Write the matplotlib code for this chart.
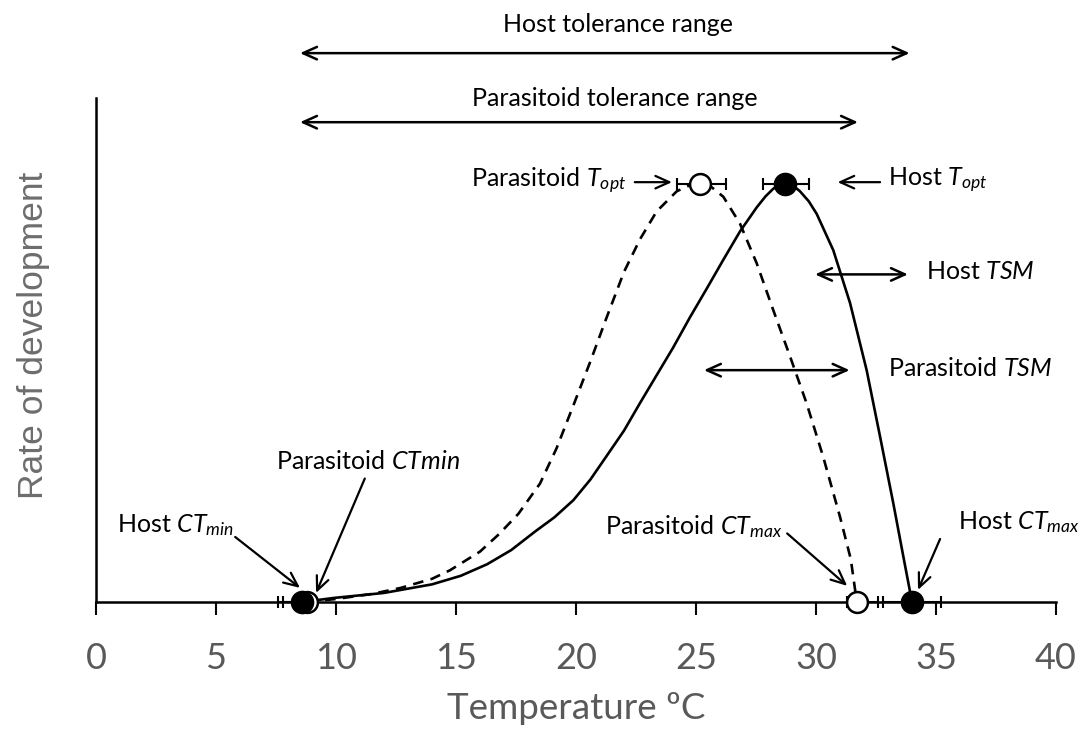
import matplotlib
matplotlib.use("Agg")
import matplotlib.pyplot as plt

# ── Fonts ─────────────────────────────────────────────────────────────────────
plt.rcParams["font.family"] = ["Lato", "DejaVu Sans"]
plt.rcParams["mathtext.fontset"] = "custom"
plt.rcParams["mathtext.rm"] = "Lato"
plt.rcParams["mathtext.it"] = "Lato:italic"

# ── Data ──────────────────────────────────────────────────────────────────────
host_temp = [8.6, 9.9, 12.0, 14.0, 15.2, 16.3, 17.3, 18.3, 19.1, 19.89, 20.6,
             21.28, 22.0, 22.67, 23.36, 24.05, 24.75, 25.45, 26.15, 26.83,
             27.53, 27.9, 28.22, 28.45, 28.7, 29.0, 29.33, 29.7, 30.03, 30.72,
             31.42, 32.11, 32.67, 33.22, 33.64, 34.0]
host_rate = [0.0, 0.008, 0.018, 0.035, 0.052, 0.075, 0.103, 0.14, 0.168, 0.202,
             0.243, 0.29, 0.34, 0.395, 0.45, 0.505, 0.565, 0.622, 0.68, 0.735,
             0.783, 0.805, 0.82, 0.827, 0.83, 0.828, 0.815, 0.795, 0.77, 0.698,
             0.593, 0.46, 0.328, 0.196, 0.09, 0.0]

para_temp = [8.8, 10.0, 11.5, 12.7, 14.0, 14.75, 16.0, 16.8, 17.6, 18.5, 19.19,
             19.89, 20.58, 21.28, 22.0, 22.67, 23.36, 24.2, 24.7, 25.15, 25.6,
             26.14, 26.83, 27.53, 28.22, 28.92, 29.61, 30.3, 31.0, 31.45, 31.7]
para_rate = [0.0, 0.006, 0.016, 0.028, 0.046, 0.063, 0.1, 0.135, 0.175, 0.235,
             0.305, 0.39, 0.475, 0.565, 0.655, 0.72, 0.775, 0.815, 0.826, 0.83,
             0.825, 0.804, 0.751, 0.672, 0.579, 0.487, 0.394, 0.288, 0.169,
             0.085, 0.0]

# key points: CTmin, Topt, CTmax
host_pts_x = [8.6, 28.7, 34.0]
host_pts_y = [0.0, 0.83, 0.0]
host_err_lo = [1.0, 0.9, 1.2]
host_err_hi = [0.4, 1.0, 1.2]

para_pts_x = [8.8, 25.15, 31.7]
para_pts_y = [0.0, 0.83, 0.0]
para_err_lo = [1.0, 0.95, 0.4]
para_err_hi = [0.2, 1.1, 0.9]

x_ticks = [0, 5, 10, 15, 20, 25, 30, 35, 40]

# ── Figure ────────────────────────────────────────────────────────────────────
fig = plt.figure(figsize=(10.82, 7.31), dpi=100)
ax = fig.add_axes([96 / 1082, 129 / 731, 960 / 1082, 504 / 731])
ax.set_xlim(0, 40)
ax.set_ylim(0, 1)

ax.plot(host_temp, host_rate, color="black", lw=1.9, zorder=2,
        solid_joinstyle="round", solid_capstyle="round")
ax.plot(para_temp, para_rate, color="black", lw=1.9, zorder=2,
        linestyle=(0, (4, 2.8)), dash_joinstyle="round")

ax.errorbar(host_pts_x, host_pts_y, xerr=[host_err_lo, host_err_hi], fmt="none",
            ecolor="black", elinewidth=1.5, capsize=4, capthick=1.5, zorder=3,
            clip_on=False)
ax.errorbar(para_pts_x, para_pts_y, xerr=[para_err_lo, para_err_hi], fmt="none",
            ecolor="black", elinewidth=1.5, capsize=4, capthick=1.5, zorder=3,
            clip_on=False)

ax.plot(para_pts_x, para_pts_y, "o", ms=15, mfc="white", mec="black", mew=1.8,
        zorder=4, clip_on=False)
ax.plot(host_pts_x, host_pts_y, "o", ms=16, mfc="black", mec="black",
        zorder=5, clip_on=False)

# ── Axes styling ──────────────────────────────────────────────────────────────
ax.spines[["top", "right"]].set_visible(False)
ax.spines["left"].set_linewidth(1.8)
ax.spines["bottom"].set_linewidth(1.8)
ax.set_yticks([])
ax.set_xticks(x_ticks)
ax.tick_params(axis="x", direction="out", length=9, width=1.5,
               labelsize=26, labelcolor="#595959", pad=20)
ax.set_xlabel("Temperature ºC", fontsize=26.5, color="#595959", labelpad=12)
fig.text(34 / 1082, (731 - 335) / 731, "Rate of development", rotation=90,
         ha="center", va="center", fontsize=25.5, color="#6d6d6d",
         family="Liberation Sans")

# ── Annotations ───────────────────────────────────────────────────────────────
TXT = dict(fontsize=18, color="black")
dbl = dict(arrowstyle="<->,head_length=1.0,head_width=0.45", lw=1.8,
           color="black", shrinkA=0, shrinkB=0)
one = dict(arrowstyle="->,head_length=1.0,head_width=0.45", lw=1.6,
           color="black", shrinkA=0, shrinkB=0)

# tolerance ranges (above the axes)
ax.annotate("", xy=(8.5, 1.089), xytext=(33.9, 1.089), arrowprops=dbl,
            annotation_clip=False)
ax.text(21.75, 1.145, "Host tolerance range", ha="center", va="center", **TXT)
ax.annotate("", xy=(8.5, 0.952), xytext=(31.75, 0.952), arrowprops=dbl,
            annotation_clip=False)
ax.text(21.6, 1.0, "Parasitoid tolerance range", ha="center", va="center", **TXT)

# optimum temperatures
ax.text(22.1, 0.836, "Parasitoid $T_{opt}$", ha="right", va="center", **TXT)
ax.annotate("", xy=(24.0, 0.833), xytext=(22.45, 0.833), arrowprops=one)
ax.annotate("", xy=(30.9, 0.833), xytext=(32.67, 0.833), arrowprops=one)
ax.text(33.0, 0.836, "Host $T_{opt}$", ha="left", va="center", **TXT)

# thermal safety margins
ax.annotate("", xy=(29.96, 0.65), xytext=(33.83, 0.65), arrowprops=dbl)
ax.text(34.6, 0.655, "Host $TSM$", ha="left", va="center", **TXT)
ax.annotate("", xy=(25.33, 0.46), xytext=(31.4, 0.46), arrowprops=dbl)
ax.text(33.0, 0.463, "Parasitoid $TSM$", ha="left", va="center", **TXT)

# critical thermal limits
ax.text(11.33, 0.278, "Parasitoid $CTmin$", ha="center", va="center", **TXT)
ax.annotate("", xy=(9.17, 0.018), xytext=(11.2, 0.245), arrowprops=one)
ax.text(3.3, 0.153, "Host $CT_{min}$", ha="center", va="center", **TXT)
ax.annotate("", xy=(8.5, 0.028), xytext=(5.8, 0.129), arrowprops=one)
ax.text(28.6, 0.15, "Parasitoid $CT_{max}$", ha="right", va="center", **TXT)
ax.annotate("", xy=(31.3, 0.032), xytext=(28.8, 0.136), arrowprops=one)
ax.text(35.9, 0.159, "Host $CT_{max}$", ha="left", va="center", **TXT)
ax.annotate("", xy=(34.25, 0.024), xytext=(35.17, 0.125), arrowprops=one)

fig.savefig("out.png", dpi=100)
